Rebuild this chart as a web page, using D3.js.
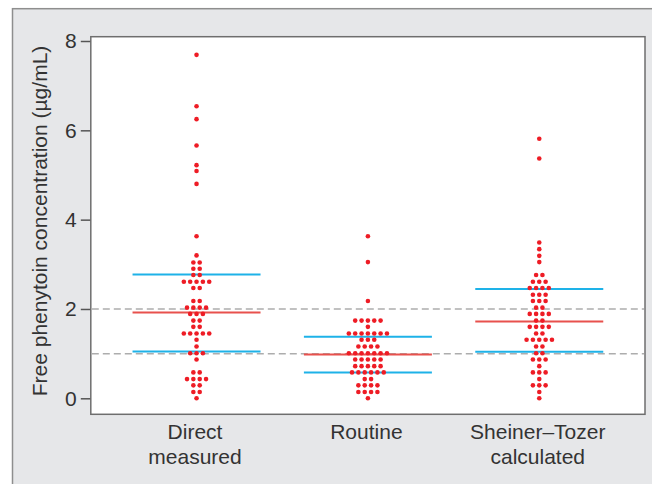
<!DOCTYPE html>
<html>
<head>
<meta charset="utf-8">
<script src="https://cdn.jsdelivr.net/npm/d3@7"></script>
<style>
  html, body { margin: 0; padding: 0; background: #fff; }
  svg { display: block; font-family: "Liberation Sans", Arial, sans-serif; }
</style>
</head>
<body>
<div id="chart"></div>
<script>
var WIDTH = 652, HEIGHT = 484;

var categories = ["Direct measured", "Routine", "Sheiner\u2013Tozer calculated"];
var labelLines = [["Direct", "measured"], ["Routine"], ["Sheiner\u2013Tozer", "calculated"]];

// one entry per dot
var directValues = [7.69, 6.54, 6.25, 5.66, 5.22, 5.09, 4.80, 3.63, 3.20, 3.04, 3.04, 2.90, 2.90,
    2.76, 2.76, 2.61, 2.61, 2.61, 2.61, 2.61, 2.47, 2.47, 2.18, 2.18, 2.03, 2.03, 2.03, 2.03,
    1.89, 1.89, 1.89, 1.74, 1.74, 1.60, 1.60, 1.45, 1.45, 1.45, 1.45, 1.45, 1.31, 1.16,
    1.01, 1.01, 1.01, 0.87, 0.58, 0.58, 0.43, 0.43, 0.43, 0.43, 0.29, 0.29, 0.14, 0.14, 0];
var routineValues = [3.63, 3.05, 2.18, 1.74, 1.74, 1.74, 1.74, 1.74, 1.60,
    1.45, 1.45, 1.45, 1.45, 1.45, 1.45, 1.45, 1.31, 1.31, 1.31, 1.16, 1.16, 1.16, 1.16,
    1.01, 1.01, 1.01, 1.01, 1.01, 1.01, 1.01, 0.87, 0.87, 0.87, 0.87, 0.87,
    0.72, 0.72, 0.72, 0.72, 0.72, 0.58, 0.58, 0.58, 0.58, 0.58, 0.58, 0.43, 0.43,
    0.29, 0.29, 0.29, 0.29, 0.14, 0.14, 0.14, 0.14, 0];
var sheinerValues = [5.81, 5.37, 3.49, 3.34, 3.19, 3.05, 2.76, 2.76, 2.61, 2.61, 2.61,
    2.47, 2.47, 2.47, 2.47, 2.32, 2.32, 2.32, 2.18, 2.18, 2.18, 2.03, 2.03,
    1.89, 1.89, 1.89, 1.89, 1.74, 1.74, 1.60, 1.60, 1.60, 1.60, 1.45, 1.45,
    1.31, 1.31, 1.31, 1.31, 1.31, 1.16, 1.16, 1.01, 1.01, 0.87, 0.87, 0.87, 0.72,
    0.58, 0.58, 0.58, 0.43, 0.29, 0.29, 0.29, 0.14, 0];

var means = [1.92, 0.98, 1.72];
var upperSD = [2.77, 1.38, 2.45];
var lowerSD = [1.05, 0.58, 1.04];

var refLines = [2, 1];
var yTicks = [0, 2, 4, 6, 8];

var plot = { left: 90.8, top: 36.7, right: 645, bottom: 414.3 };
var DOT_STEP = 6.35;
var DOT_R = 2.3;
var HALF_LINE = 64;

var svg = d3.select("#chart")
    .append("svg")
    .attr("width", WIDTH)
    .attr("height", HEIGHT);

// outer grey panel
svg.append("rect")
    .attr("x", 12.5)
    .attr("y", 8.7)
    .attr("width", WIDTH)
    .attr("height", HEIGHT)
    .attr("fill", "#e6e7e9")
    .attr("stroke", "#8e8e8e")
    .attr("stroke-width", 1.5);

var y = d3.scaleLinear()
    .domain([0, 8])
    .range([398.3, 41]);

var x = d3.scalePoint()
    .domain(categories)
    .range([plot.left, plot.right])
    .padding(0.617);

// plot area
svg.append("rect")
    .attr("x", plot.left)
    .attr("y", plot.top)
    .attr("width", plot.right - plot.left)
    .attr("height", plot.bottom - plot.top)
    .attr("fill", "#fff")
    .attr("stroke", "#6e6e6e")
    .attr("stroke-width", 1.5);

var yAxis = svg.append("g")
    .attr("transform", "translate(" + (plot.left - 0.5) + ",0)")
    .call(d3.axisLeft(y).tickValues(yTicks).tickSize(9.5).tickPadding(4).tickFormat(d3.format("d")));
yAxis.select(".domain").remove();
yAxis.selectAll(".tick line").attr("stroke", "#555").attr("stroke-width", 1.5);
yAxis.selectAll(".tick text")
    .attr("fill", "#333")
    .style("font-size", "21px")
    .style("font-family", "'Liberation Sans', Arial, sans-serif");

svg.append("text")
    .attr("transform", "translate(47," + 221 + ") rotate(-90)")
    .attr("text-anchor", "middle")
    .attr("fill", "#333")
    .style("font-size", "21px")
    .text("Free phenytoin concentration (\u00b5g/mL)");

// x labels
categories.forEach(function (c, i) {
    var t = svg.append("text")
        .attr("text-anchor", "middle")
        .attr("fill", "#333")
        .style("font-size", "21px");
    labelLines[i].forEach(function (line, j) {
        t.append("tspan")
            .attr("x", x(c) - 1.5)
            .attr("y", 439 + j * 24.5)
            .text(line);
    });
});

// dashed reference lines
svg.selectAll(".ref")
    .data(refLines)
    .enter().append("line")
    .attr("class", "ref")
    .attr("x1", plot.left + 1)
    .attr("x2", plot.right - 1)
    .attr("y1", function (d) { return y(d); })
    .attr("y2", function (d) { return y(d); })
    .attr("stroke", "#adadad")
    .attr("stroke-width", 1.5)
    .attr("stroke-dasharray", "7,4");

// mean and SD lines
function statLines(values, color) {
    svg.selectAll(null)
        .data(values)
        .enter().append("line")
        .attr("x1", function (d, i) { return x(categories[i]) - HALF_LINE; })
        .attr("x2", function (d, i) { return x(categories[i]) + HALF_LINE; })
        .attr("y1", function (d) { return y(d); })
        .attr("y2", function (d) { return y(d); })
        .attr("stroke", color)
        .attr("stroke-width", 2);
}
statLines(upperSD, "#1eb2e8");
statLines(lowerSD, "#1eb2e8");
statLines(means, "#e8514d");

// dots: same-valued dots spread symmetrically around the category centre
var groups = [directValues, routineValues, sheinerValues];
var dots = [];
groups.forEach(function (vals, gi) {
    var byValue = d3.group(vals, function (v) { return v; });
    byValue.forEach(function (list, v) {
        var n = list.length;
        for (var k = 0; k < n; k++) {
            dots.push({ cat: categories[gi], v: v, off: (k - (n - 1) / 2) * DOT_STEP });
        }
    });
});

svg.selectAll(".dot")
    .data(dots)
    .enter().append("circle")
    .attr("class", "dot")
    .attr("cx", function (d) { return x(d.cat) + d.off; })
    .attr("cy", function (d) { return y(d.v); })
    .attr("r", DOT_R)
    .attr("fill", "#ee1c25");
</script>
</body>
</html>
